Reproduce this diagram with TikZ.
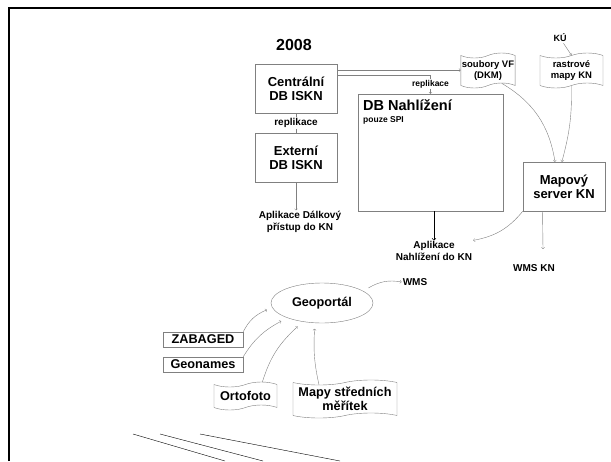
\documentclass[tikz,border=0pt]{standalone}
\usepackage{fontspec}
\setmainfont{Liberation Sans}
\usetikzlibrary{shapes.symbols,shapes.geometric}
\begin{document}
\begin{tikzpicture}[x=1pt,y=-1pt]
\tikzstyle{arrow}=[->, gray, thin]
\tikzstyle{link}=[gray, thin]
\tikzstyle{box}=[draw=gray, rectangle, align=center, inner sep=1pt, font=\fontsize{13}{14}\selectfont\bfseries]
\tikzstyle{doc}=[draw=gray, tape, align=center, inner sep=1pt, font=\fontsize{9.5}{11.5}\selectfont\bfseries]
\tikzstyle{txt}=[align=center, inner sep=1pt, text=black, font=\fontsize{10}{11.5}\selectfont\bfseries]
\tikzstyle{big}=[font=\fontsize{12.7}{14}\selectfont\bfseries]
\useasboundingbox (0,0) rectangle (611,461);
\draw[line width=2.5pt] (9,461) -- (9,8) -- (611,8);
\draw node[txt, font=\fontsize{16}{17}\selectfont\bfseries] (Y) at (294,45) {2008};
\draw node[box, minimum width=82, minimum height=49] (CDB) at (296,88.5) {Centrální\\DB ISKN};
\draw node[box, minimum width=82, minimum height=49] (EDB) at (296,157.5) {Externí\\DB ISKN};
\draw[link] (CDB) -- node[txt, fill=white] {replikace} (EDB);
\draw node[txt] (ADP) at (300,222) {Aplikace Dálkový\\přístup do KN};
\draw[arrow] (EDB.south) -- (EDB.south |- ADP.north);
\draw node[box, minimum width=145, minimum height=117] (DBN) at (430.5,152.5) {};
\draw node[txt, anchor=base west, font=\fontsize{14.5}{16}\selectfont\bfseries] (DBNt) at (362,110) {DB Nahlížení};
\draw node[txt, anchor=base west, font=\fontsize{8.5}{10}\selectfont\bfseries] (SPI) at (362,122) {pouze SPI};
\draw node[doc, minimum width=50, minimum height=35] (VF) at (488,70.5) {soubory VF\\(DKM)};
\draw node[doc, minimum width=63, minimum height=35] (RM) at (571.5,70.5) {rastrové\\mapy KN};
\draw node[txt, font=\fontsize{9}{10}\selectfont\bfseries] (KU) at (560,38) {KÚ};
\draw[arrow] (KU) -- (RM.north);
\draw[arrow] (CDB.24) -- (CDB.24 -| VF.west);
\draw[arrow] (CDB.18) -| node[pos=0.75, txt, fill=white, font=\fontsize{8.5}{10}\selectfont\bfseries] {replikace} (DBN.north);
\draw node[box, minimum width=82, minimum height=49] (MS) at (564,186.5) {Mapový\\server KN};
\draw[arrow] (VF.-75) to[bend left=25] (MS.110);
\draw[arrow] (RM.south) to[bend left=8] (MS.95);
\draw node[txt] (ANK) at (434,251) {Aplikace\\Nahlížení do KN};
\draw[->, semithick] (ANK.north |- DBN.south) -- (ANK.north);
\draw[arrow] (MS.south west) to[bend left=20] (ANK.north east);
\coordinate (wk) at (543,249);
\draw[arrow] (MS.229) -- (wk);
\draw node[txt] (WKN) at (534,268) {WMS KN};
\draw node[draw=gray, ellipse, big, minimum width=102, minimum height=40, outer sep=6pt] (GP) at (322,303) {Geoportál};
\draw node[txt] (WMS) at (415,282) {WMS};
\draw[arrow] (GP.18) to[bend left=20] (WMS.west);
\draw node[box, big, minimum width=80, minimum height=15] (ZB) at (203,339.5) {ZABAGED};
\draw node[box, big, minimum width=80, minimum height=15] (GN) at (203,364.5) {Geonames};
\draw node[doc, big, minimum width=63, minimum height=28] (OF) at (245.5,396) {Ortofoto};
\draw node[doc, big, minimum width=104, minimum height=38] (MP) at (345,399) {Mapy středních\\měřítek};
\draw[arrow] (ZB.north east) to[bend left=20] (GP.187);
\draw[arrow] (GN.north east) to[bend left=15] (GP.204);
\draw[arrow] (OF.40) to[bend left=15] (GP.224);
\draw[arrow] (MP.150) to[bend left=8] (GP.254);
\draw (133,434) -- (225,461);
\draw (160,434) -- (263,461);
\draw (200,434) -- (340,461);
\end{tikzpicture}
\end{document}
